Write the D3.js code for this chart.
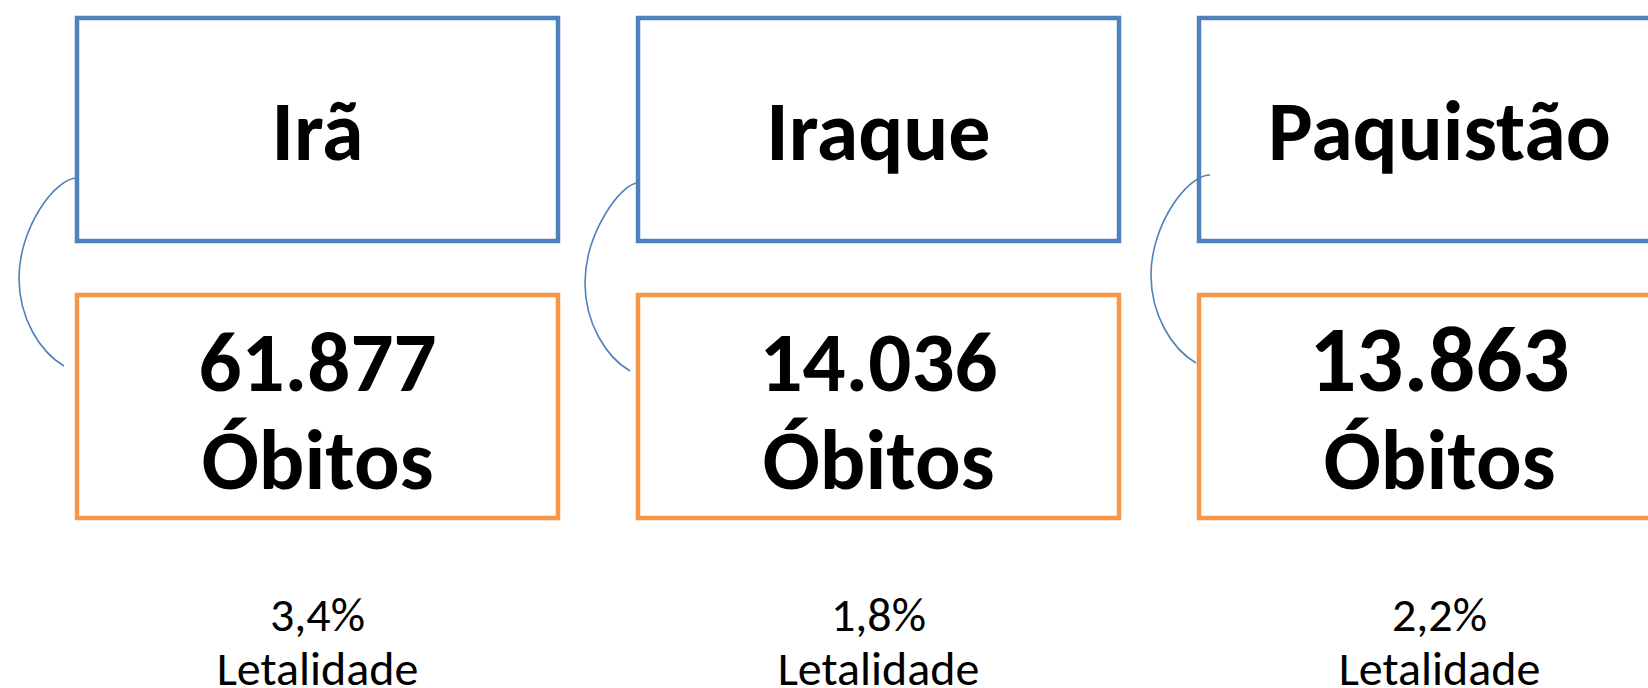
<!DOCTYPE html>
<html>
<head>
<meta charset="utf-8">
<script src="https://cdn.jsdelivr.net/npm/d3@7"></script>
<style>
  body { margin: 0; background: #fff; }
  svg { display: block; }
</style>
</head>
<body>
<div id="container"></div>
<script>
/* DATA */
const paises = ["Irã", "Iraque", "Paquistão"]
const obitos = [61877, 14036, 13863]
const letalidade = [3.4, 1.8, 2.2]

/* CONSTANTS */
const width = 1648,
  height = 688,
  blue = "#4F81BD",
  orange = "#F79646",
  font = "Carlito, Calibri, Lato, sans-serif";

// box rows (top / bottom)
const rowTop = { y: 18, h: 223 },
  rowBottom = { y: 295, h: 223 };

// the last number is set a little larger in the original
const numSize = [85, 85, 93]
// small hand-drawn offsets of the brackets
const connDx = [0, 5, 10],
  connDy = [0, 5, -3],
  connStub = [0, 0, 11];

const br = d3.formatLocale({ decimal: ",", thousands: ".", grouping: [3], currency: ["R$", ""] })
const fmtInt = br.format(",d")
const fmtPct = br.format(".1f")

const rows = paises.map((p, i) => ({ pais: p, obitos: obitos[i], letal: letalidade[i], i }))

/* SCALES */
const xScale = d3.scaleBand()
  .domain(paises)
  .range([77, 1680])
  .paddingInner(0.1426)
  .paddingOuter(0)

const svg = d3.select("#container")
  .append("svg")
  .attr("width", width)
  .attr("height", height)

svg.append("rect")
  .attr("width", width)
  .attr("height", height)
  .attr("fill", "#fff")

const g = svg.selectAll(".col")
  .data(rows)
  .join("g")
  .attr("class", "col")

// connector bracket on the left of each pair
g.append("path")
  .attr("fill", "none")
  .attr("stroke", blue)
  .attr("stroke-width", 1.6)
  .attr("d", d => {
    const x0 = xScale(d.pais)
    const bx = x0 + connDx[d.i], dy = connDy[d.i]
    const p = d3.path()
    p.moveTo(x0 + connStub[d.i], 178 + dy)
    p.bezierCurveTo(bx - 22, 178 + dy, bx - 58, 228 + dy, bx - 58, 278 + dy)
    p.bezierCurveTo(bx - 58, 318 + dy, bx - 37, 352 + dy, bx - 13, 366 + dy)
    return p.toString()
  })

// top boxes (country)
g.append("rect")
  .attr("x", d => xScale(d.pais))
  .attr("y", rowTop.y)
  .attr("width", xScale.bandwidth())
  .attr("height", rowTop.h)
  .attr("fill", "none")
  .attr("stroke", blue)
  .attr("stroke-width", 4.5)

// bottom boxes (deaths)
g.append("rect")
  .attr("x", d => xScale(d.pais))
  .attr("y", rowBottom.y)
  .attr("width", xScale.bandwidth())
  .attr("height", rowBottom.h)
  .attr("fill", "none")
  .attr("stroke", orange)
  .attr("stroke-width", 4.5)

const cx = d => xScale(d.pais) + xScale.bandwidth() / 2

g.append("text")
  .attr("x", cx)
  .attr("y", 160)
  .attr("text-anchor", "middle")
  .style("font-family", font)
  .style("font-weight", "bold")
  .style("font-size", "84px")
  .text(d => d.pais)

g.append("text")
  .attr("x", cx)
  .attr("y", 391)
  .attr("text-anchor", "middle")
  .style("font-family", font)
  .style("font-weight", "bold")
  .style("font-size", d => numSize[d.i] + "px")
  .text(d => fmtInt(d.obitos))

g.append("text")
  .attr("x", cx)
  .attr("y", 489)
  .attr("text-anchor", "middle")
  .style("font-family", font)
  .style("font-weight", "bold")
  .style("font-size", "85px")
  .text("Óbitos")

// lethality labels under the boxes
g.append("text")
  .attr("x", cx)
  .attr("y", 631)
  .attr("text-anchor", "middle")
  .style("font-family", font)
  .style("font-size", "48px")
  .text(d => fmtPct(d.letal) + "%")

g.append("text")
  .attr("x", cx)
  .attr("y", 685)
  .attr("text-anchor", "middle")
  .style("font-family", font)
  .style("font-size", "48px")
  .text("Letalidade")
</script>
</body>
</html>
